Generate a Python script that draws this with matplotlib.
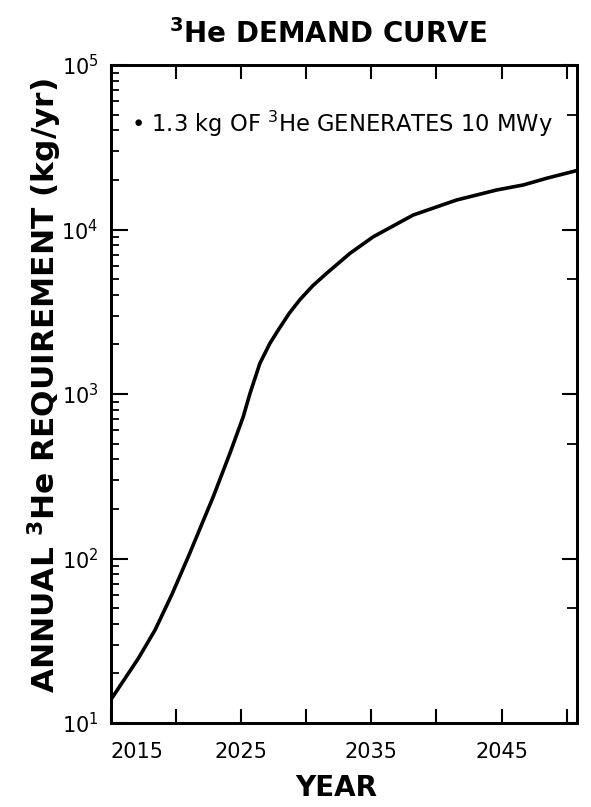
import numpy as np
import matplotlib
matplotlib.use("Agg")
import matplotlib.pyplot as plt
from matplotlib.ticker import FixedLocator, LogLocator, NullFormatter

plt.rcParams['font.family'] = ['DejaVu Sans']
plt.rcParams['mathtext.default'] = 'regular'

# values
years = [2015.0, 2015.82, 2017.10, 2018.38, 2019.66, 2020.94, 2022.86, 2024.14,
         2025.16, 2025.68, 2026.44, 2027.21, 2027.85, 2028.70, 2029.52, 2030.50,
         2031.57, 2033.36, 2035.15, 2038.22, 2041.55, 2044.62, 2046.67, 2048.46,
         2050.79]
demand = [13.9, 17.4, 24.7, 36.7, 60, 102.6, 238, 437,
          728, 1009, 1537, 2033, 2450, 3100, 3750, 4550,
          5420, 7165, 9035, 12250, 15110, 17380, 18650, 20480,
          22820]

year_labels = [2015, 2025, 2035, 2045]
year_unlabeled = [2020, 2030, 2040, 2050]

fig = plt.figure(figsize=(5.91, 8.07), dpi=100)
W, H = 591, 807
ax = fig.add_axes([111 / W, 1 - 723 / H, (577 - 111) / W, (723 - 65) / H])

ax.plot(years, demand, color='black', lw=2.6, solid_capstyle='round',
        solid_joinstyle='round')

ax.set_yscale('log')
ax.set_xlim(2015, 2050.8)
ax.set_ylim(10, 1e5)

for s in ax.spines.values():
    s.set_linewidth(2.0)

# x ticks
ax.xaxis.set_major_locator(FixedLocator(year_labels))
ax.xaxis.set_minor_locator(FixedLocator(year_unlabeled))
ax.set_xticklabels([str(y) for y in year_labels])
ax.tick_params(axis='x', which='both', direction='in', length=10, width=1.5,
               top=True, labelsize=15, pad=14)
lbls = ax.get_xticklabels()
lbls[0].set_ha('left')

# y ticks (left: full decade minors, right: 1x and 5x)
ax.yaxis.set_minor_locator(LogLocator(base=10, subs=np.arange(2, 10), numticks=10))
ax.yaxis.set_minor_formatter(NullFormatter())
ax.set_yticks([10, 100, 1000, 1e4, 1e5])
ax.set_yticklabels(['$10^{1}$', '$10^{2}$', '$10^{3}$', '$10^{4}$', '$10^{5}$'])
ax.tick_params(axis='y', which='major', direction='in', length=12, width=1.5,
               labelsize=15, pad=9)
ax.tick_params(axis='y', which='minor', direction='in', length=6, width=1.3)

ax2 = ax.twinx()
ax2.set_yscale('log')
ax2.set_ylim(10, 1e5)
ax2.set_yticks([10, 100, 1000, 1e4, 1e5])
ax2.set_yticks([50, 500, 5000, 5e4], minor=True)
ax2.tick_params(axis='y', which='major', direction='in', length=11, width=1.5,
                labelright=False)
ax2.tick_params(axis='y', which='minor', direction='in', length=7, width=1.3,
                labelright=False)
ax2.yaxis.set_minor_formatter(NullFormatter())
for s in ax2.spines.values():
    s.set_linewidth(2.0)

fig.text(328 / W, 1 - 43 / H, '$^{3}$He DEMAND CURVE', fontsize=20,
         fontweight='bold', ha='center', va='baseline')
fig.text(45 / W, 1 - 386 / H, 'ANNUAL $^{3}$He REQUIREMENT (kg/yr)',
         fontsize=22.5, fontweight='bold', rotation=90, ha='center', va='center')
fig.text(336 / W, 1 - 788 / H, 'YEAR', fontsize=20, fontweight='bold',
         ha='center', va='center')
fig.text(131 / W, 1 - 132 / H, '\u2022 1.3 kg OF $^{3}$He GENERATES 10 MWy',
         fontsize=16.3, ha='left', va='baseline')

fig.savefig('out.png', dpi=100)
